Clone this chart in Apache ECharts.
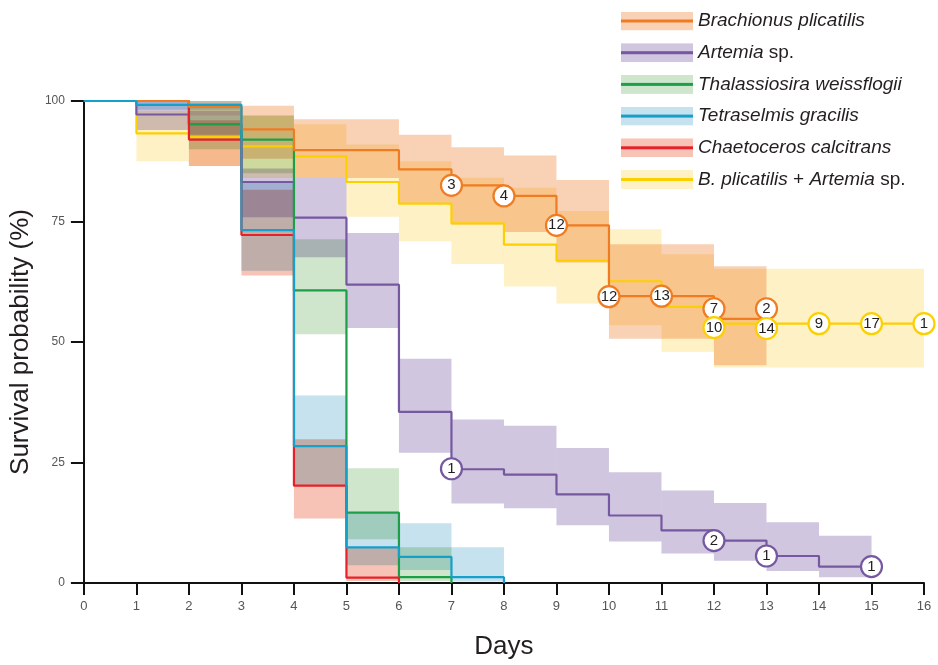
<!DOCTYPE html>
<html><head><meta charset="utf-8">
<script src="https://cdn.jsdelivr.net/npm/echarts@6/dist/echarts.min.js"></script>
<style>html,body{margin:0;padding:0;background:#fff}#c{width:938px;height:665px}</style>
</head><body><div id="c"></div>
<script>
const FONT = "'Liberation Sans', Arial, Helvetica, sans-serif";
const dayTicks = [0,1,2,3,4,5,6,7,8,9,10,11,12,13,14,15,16];
const survivalTicks = [0,25,50,75,100];
const seriesNames = ['Brachionus plicatilis','Artemia sp.','Thalassiosira weissflogii','Tetraselmis gracilis','Chaetoceros calcitrans','B. plicatilis + Artemia sp.'];
const legendRich = {
  'Brachionus plicatilis': '{i|Brachionus plicatilis}',
  'Artemia sp.': '{i|Artemia} sp.',
  'Thalassiosira weissflogii': '{i|Thalassiosira weissflogii}',
  'Tetraselmis gracilis': '{i|Tetraselmis gracilis}',
  'Chaetoceros calcitrans': '{i|Chaetoceros calcitrans}',
  'B. plicatilis + Artemia sp.': '{i|B. plicatilis} + {i|Artemia} sp.'
};
const lineColors = ['#ef7b22','#7658a0','#1c9f48','#14a0c9','#e62129','#fcd000'];
const bandColors = ['#f9d2b6','#d0c6e0','#cfe6cc','#c5e2ee','#f7c3b6','#fef1c6'];

// Kaplan-Meier step values [day, survival %]
const brachionusLine = [[0,100],[2,98.8],[3,94.1],[4,89.8],[6,85.8],[7,82.5],[8,80.3],[9,74.2],[10,59.5],[12,54.8],[13,54.8]];
const artemiaLine = [[0,100],[1,97.2],[2,95.2],[3,83.2],[4,75.8],[5,61.9],[6,35.5],[7,23.6],[8,22.5],[9,18.4],[10,14.0],[11,10.9],[12,8.8],[13,5.6],[14,3.4],[15,3.4]];
const thalassiosiraLine = [[0,100],[2,95.2],[3,92.0],[4,60.7],[5,14.6],[6,1.2],[7,0]];
const tetraselmisLine = [[0,100],[1,99.2],[3,73.2],[4,28.4],[5,7.4],[6,5.4],[7,1.2],[8,0]];
const chaetocerosLine = [[0,100],[2,92.0],[3,72.2],[4,20.2],[5,1.1],[6,0]];
const comboLine = [[0,100],[1,93.3],[2,92.5],[3,90.6],[4,88.5],[5,83.2],[6,78.7],[7,74.6],[8,70.2],[9,66.9],[10,62.6],[11,57.3],[12,53.8],[16,53.8]];

// confidence bands [startDay, endDay, lower, upper]
const brachionusBand = [[2,3,97,100],[3,4,88,99],[4,6,84,96.2],[6,7,78.7,93],[7,8,74.4,90.4],[8,9,72.8,88.7],[9,10,66.5,83.6],[10,12,50.7,70.3],[12,13,45.2,65.7]];
const artemiaBand = [[1,2,94,100],[2,3,93,98],[3,4,75.9,86],[4,5,67.6,84],[5,6,52.9,72.6],[6,7,27,46.5],[7,8,16.5,33.9],[8,9,15.5,32.6],[9,10,12,28],[10,11,8.6,23],[11,12,6.1,19.2],[12,13,4.6,16.6],[13,14,2.5,12.6],[14,15,1.2,9.8]];
const thalassiosiraBand = [[2,3,90,99.5],[3,4,85,97],[4,5,51.6,71.3],[5,6,9.1,23.8],[6,7,0.4,7.4]];
const tetraselmisBand = [[1,3,98.2,100],[3,4,64.8,83],[4,5,20.2,38.9],[5,6,3.7,14.6],[6,7,2.7,12.4],[7,8,0.3,7.4]];
const chaetocerosBand = [[2,3,86.5,96],[3,4,63.8,81.6],[4,5,13.4,29.8],[5,6,0.4,7.4]];
const comboBand = [[1,2,87.5,98],[2,3,86.5,97],[3,4,84,97],[4,5,84,95.2],[5,6,76,91],[6,7,70.9,87.5],[7,8,66.2,84.1],[8,9,61.5,82],[9,10,58,77.2],[10,11,53.5,73.4],[11,12,48,68.2],[12,16,44.7,65.2]];

// numbered censor markers [day, survival %, label]
const brachionusCensor = [[7,82.5,'3'],[8,80.3,'4'],[9,74.2,'12'],[10,59.4,'12'],[11,59.5,'13'],[12,56.9,'7'],[13,56.9,'2']];
const artemiaCensor = [[7,23.7,'1'],[12,8.8,'2'],[13,5.6,'1'],[15,3.4,'1']];
const comboCensor = [[12,53.0,'10'],[13,52.8,'14'],[14,53.8,'9'],[15,53.8,'17'],[16,53.8,'1']];

const lines = [brachionusLine, artemiaLine, thalassiosiraLine, tetraselmisLine, chaetocerosLine, comboLine];
const bands = [brachionusBand, artemiaBand, thalassiosiraBand, tetraselmisBand, chaetocerosBand, comboBand];
const censors = [brachionusCensor, artemiaCensor, null, null, null, comboCensor];
const lineOrder = [5,1,2,4,0,3];

function icon(i){
  const svg = '<svg xmlns="http://www.w3.org/2000/svg" width="72" height="19"><rect width="72" height="19" fill="'+bandColors[i]+'"/><rect y="8" width="72" height="3" fill="'+lineColors[i]+'"/></svg>';
  return 'image://data:image/svg+xml;charset=utf-8,' + encodeURIComponent(svg);
}

const series = [];
bands.forEach((b,i)=>{
  series.push({
    type:'custom', name: seriesNames[i], data: b, z: 1, silent: true,
    encode:{x:[0,1], y:[2,3]},
    renderItem(params, api){
      const p0 = api.coord([api.value(0), api.value(3)]);
      const p1 = api.coord([api.value(1), api.value(2)]);
      return {type:'rect', name:'ciband', shape:{x:p0[0], y:p0[1], width:p1[0]-p0[0], height:p1[1]-p0[1]},
              style:{fill: bandColors[i], blend:'multiply'}};
    }
  });
});
lineOrder.forEach((i,k)=>{
  series.push({
    type:'line', name: seriesNames[i], data: lines[i], step:'end', symbol:'none', showSymbol:false,
    z: 3 + k*0.1, silent: true, color: lineColors[i],
    lineStyle:{color: lineColors[i], width: 2.2}
  });
});
censors.forEach((c,i)=>{
  if(!c) return;
  series.push({
    type:'scatter', name: seriesNames[i], z: 6, silent: true,
    data: c.map(d=>({value:[d[0], d[1]], name: d[2]})),
    symbol:'circle', symbolSize: 21,
    itemStyle:{color:'#fff', borderColor: lineColors[i], borderWidth: 2.2, opacity: 1},
    label:{show:true, position:'inside', formatter:'{b}', color:'#231f20', fontSize: 15, fontFamily: FONT}
  });
});

const chart = echarts.init(document.getElementById('c'), null, {renderer:'canvas'});
chart.setOption({
  backgroundColor:'#fff',
  animation:false,
  grid:{left:72.5, right:14, top:101, bottom:79},
  xAxis:{
    type:'value', min: dayTicks[0], max: dayTicks[dayTicks.length-1], interval:1,
    name:'Days', nameLocation:'middle', nameGap: 51,
    nameTextStyle:{fontSize:26, color:'#231f20', fontFamily:FONT},
    axisLine:{onZero:false, lineStyle:{color:'#111', width:2}},
    axisTick:{show:true, length:12, lineStyle:{color:'#111', width:2}},
    axisLabel:{color:'#555', fontSize:13, margin:17, fontFamily:FONT},
    splitLine:{show:false}
  },
  yAxis:{
    type:'value', min: survivalTicks[0], max: survivalTicks[survivalTicks.length-1], interval:25,
    name:'Survival probability (%)', nameLocation:'middle', nameGap: 37,
    nameTextStyle:{fontSize:26, color:'#231f20', fontFamily:FONT},
    axisLine:{show:true, onZero:false, lineStyle:{color:'#111', width:2}},
    axisTick:{show:true, length:13, lineStyle:{color:'#111', width:2}},
    axisLabel:{color:'#555', fontSize:12, margin:19, fontFamily:FONT},
    splitLine:{show:false}
  },
  legend:{
    orient:'vertical', left:616, top:6, itemWidth:72, itemHeight:19, itemGap:11.7,
    selectedMode:false, symbolKeepAspect:false,
    data: seriesNames.map((n,i)=>({name:n, icon: icon(i)})),
    formatter: n => legendRich[n],
    textStyle:{fontSize:19, lineHeight:20, color:'#231f20', fontFamily:FONT,
      rich:{i:{fontStyle:'italic', fontSize:19, lineHeight:20, color:'#231f20', fontFamily:FONT}}}
  },
  series
});

// overlapping confidence bands are blended multiplicatively, like overprinted transparent inks
function applyBlend(){
  const zr = chart.getZr();
  const set = new Set(bandColors.map(c=>c.toLowerCase()));
  let changed = false;
  zr.storage.getDisplayList(true).forEach(el=>{
    if (el.type === 'rect' && el.style && typeof el.style.fill === 'string' && set.has(el.style.fill.toLowerCase()) && el.style.blend !== 'multiply') {
      el.style.blend = 'multiply';
      el.markRedraw ? el.markRedraw() : el.dirty();
      changed = true;
    }
  });
  if (changed) zr.refreshImmediately();
}
applyBlend();
chart.on('finished', applyBlend);
</script></body></html>
